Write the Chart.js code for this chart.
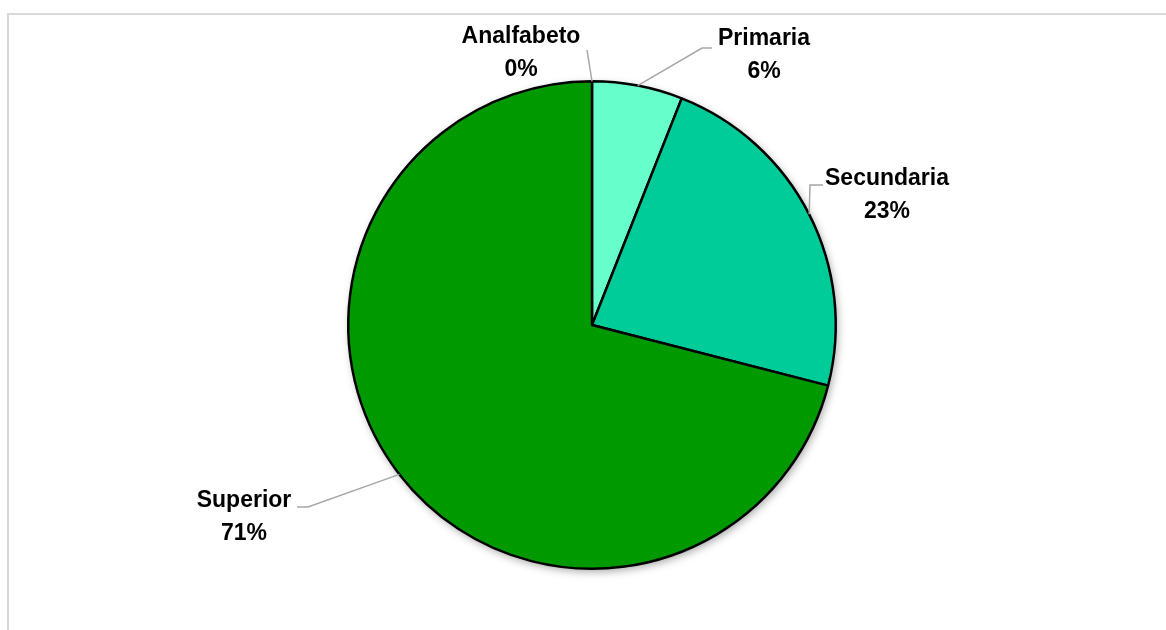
<!DOCTYPE html>
<html>
<head>
<meta charset="utf-8">
<script src="https://cdn.jsdelivr.net/npm/chart.js@4.4.1/dist/chart.umd.min.js"></script>
<style>
  html, body { margin: 0; padding: 0; background: #fff; }
  #wrap { width: 1166px; height: 630px; position: relative; }
</style>
</head>
<body>
<div id="wrap"><canvas id="nivel-chart"></canvas></div>
<script>
const categories = ['Analfabeto', 'Primaria', 'Secundaria', 'Superior'];
const percentages = [0, 6, 23, 71];
const sliceColors = ['#ccffee', '#66ffcc', '#00cc99', '#009900'];

// label text position + leader elbow, as offsets from the pie centre
const labelSpots = [
  { x: -71, y: -282, path: [[-5, -275]] },
  { x: 172, y: -280, path: [[110, -277], [120, -277]] },
  { x: 295, y: -140, path: [[218, -140], [231, -140]] },
  { x: -348, y: 182, path: [[-284, 182], [-295, 182]] }
];

const frame = {
  id: 'frame',
  beforeDraw(chart) {
    const ctx = chart.ctx;
    ctx.save();
    ctx.strokeStyle = '#d9d9d9';
    ctx.lineWidth = 2;
    ctx.beginPath();
    ctx.moveTo(8, 640);
    ctx.lineTo(8, 14);
    ctx.lineTo(1170, 14);
    ctx.stroke();
    ctx.restore();
  }
};

const pieShadow = {
  id: 'pieShadow',
  beforeDatasetsDraw(chart) {
    const arc = chart.getDatasetMeta(0).data[0];
    if (!arc) return;
    const ctx = chart.ctx;
    ctx.save();
    ctx.shadowColor = 'rgba(0,0,0,0.35)';
    ctx.shadowBlur = 9;
    ctx.shadowOffsetX = 2;
    ctx.shadowOffsetY = 3;
    ctx.fillStyle = '#009900';
    ctx.beginPath();
    ctx.arc(arc.x, arc.y, arc.outerRadius, 0, Math.PI * 2);
    ctx.fill();
    ctx.restore();
  }
};

const sliceLabels = {
  id: 'sliceLabels',
  afterDatasetsDraw(chart) {
    const ctx = chart.ctx;
    const arcs = chart.getDatasetMeta(0).data;
    ctx.save();
    arcs.forEach((arc, i) => {
      const spot = labelSpots[i];
      const cx = arc.x, cy = arc.y;
      const mid = (arc.startAngle + arc.endAngle) / 2;
      // leader line from the slice edge
      ctx.strokeStyle = '#a6a6a6';
      ctx.lineWidth = 1.5;
      ctx.beginPath();
      ctx.moveTo(cx + Math.cos(mid) * arc.outerRadius, cy + Math.sin(mid) * arc.outerRadius);
      spot.path.forEach(p => ctx.lineTo(cx + p[0], cy + p[1]));
      ctx.stroke();

      ctx.fillStyle = '#000';
      ctx.font = 'bold 23px "Liberation Sans", Arial, sans-serif';
      ctx.textAlign = 'center';
      ctx.textBaseline = 'alphabetic';
      ctx.fillText(categories[i], cx + spot.x, cy + spot.y);
      ctx.fillText(percentages[i] + '%', cx + spot.x, cy + spot.y + 33);
    });
    ctx.restore();
  }
};

new Chart(document.getElementById('nivel-chart'), {
  type: 'pie',
  data: {
    labels: categories,
    datasets: [{
      data: percentages,
      backgroundColor: sliceColors,
      borderColor: '#000',
      borderWidth: 2.5
    }]
  },
  options: {
    responsive: true,
    maintainAspectRatio: false,
    animation: false,
    layout: {
      padding: { top: 80, bottom: 60, left: 18, right: 0 }
    },
    plugins: {
      legend: { display: false },
      tooltip: { enabled: false }
    }
  },
  plugins: [frame, pieShadow, sliceLabels]
});
</script>
</body>
</html>
